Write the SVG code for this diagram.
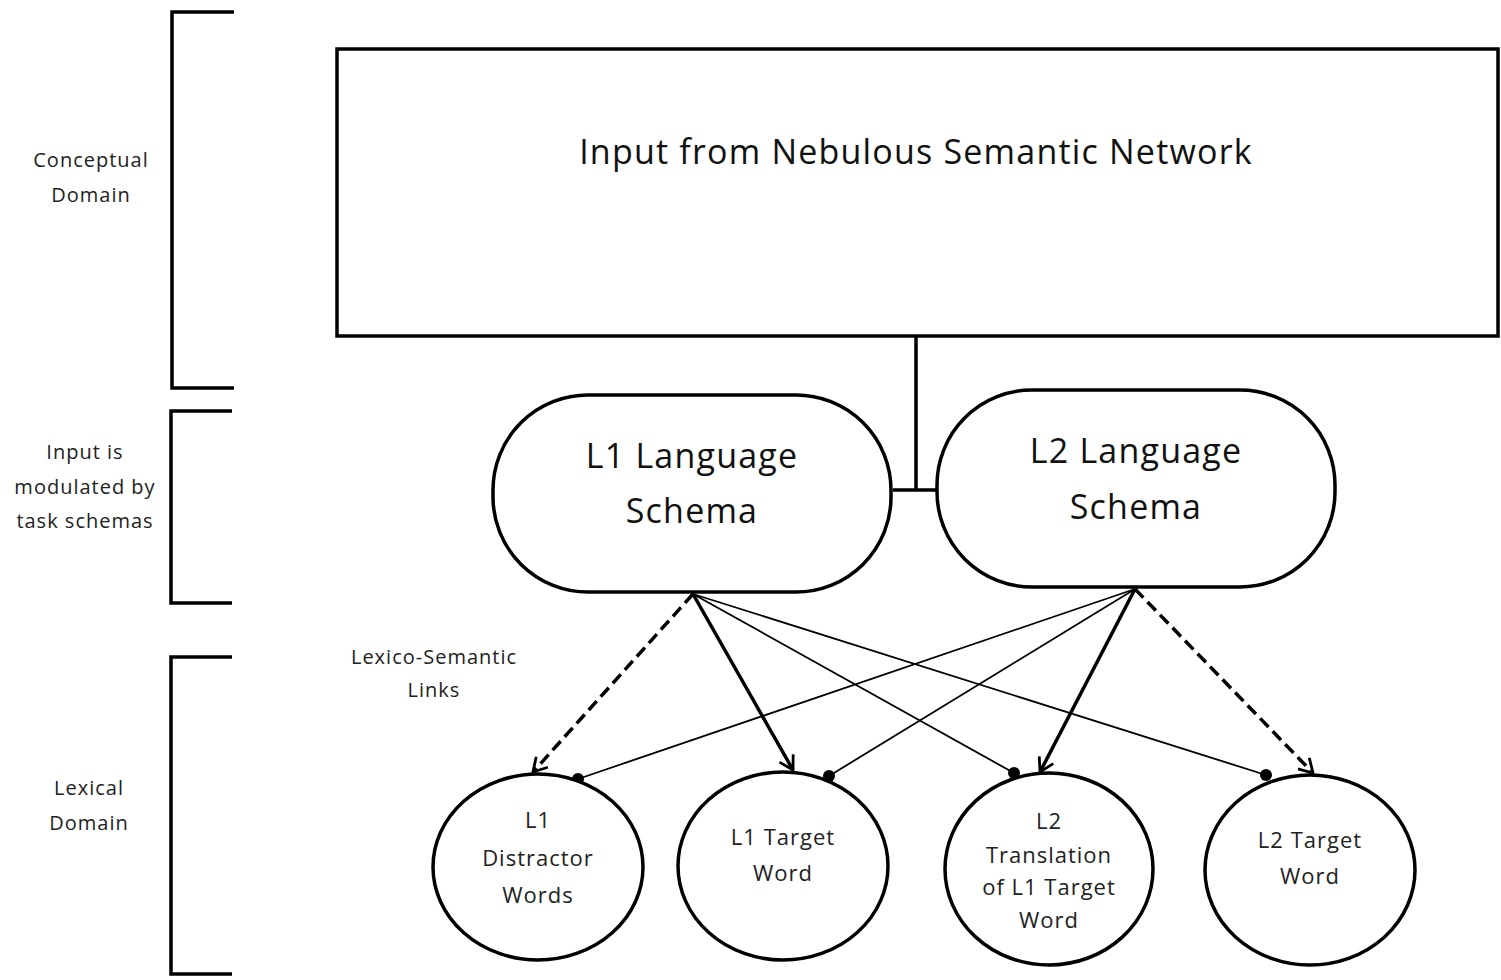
<svg xmlns="http://www.w3.org/2000/svg" width="1501" height="980" viewBox="0 0 1501 980">
  <style>
    .box { fill: #fff; stroke: #000; stroke-width: 3.5; }
    .brk { fill: none; stroke: #000; stroke-width: 3.5; }
    .side { font-family: "Open Sans", "Liberation Sans", sans-serif; font-size: 20px; letter-spacing: 1px; fill: #222; text-anchor: middle; }
    .big { font-family: "Open Sans", "Liberation Sans", sans-serif; font-size: 34px; letter-spacing: 1.2px; fill: #111; text-anchor: middle; }
    .node { font-family: "Open Sans", "Liberation Sans", sans-serif; font-size: 22px; letter-spacing: 1px; fill: #222; text-anchor: middle; }
    .thick { fill: none; stroke: #000; stroke-width: 3.5; }
    .dash { fill: none; stroke: #000; stroke-width: 3.5; stroke-dasharray: 12 6; }
    .thin { fill: none; stroke: #000; stroke-width: 1.8; }
  </style>
  <defs>
    <marker id="open" viewBox="0 0 16 16" refX="14" refY="8" markerWidth="18" markerHeight="18" markerUnits="userSpaceOnUse" orient="auto">
      <path d="M2,1 L14,8 L2,15" fill="none" stroke="#000" stroke-width="2.5"/>
    </marker>
    <marker id="dot" viewBox="0 0 12 12" refX="6" refY="6" markerWidth="12" markerHeight="12" markerUnits="userSpaceOnUse">
      <circle cx="6" cy="6" r="6" fill="#000"/>
    </marker>
  </defs>
  <rect width="1501" height="980" fill="#fff"/>

  <!-- domain brackets and labels -->
  <g id="domain-conceptual">
    <path class="brk" d="M234,12 H172 V388 H234"/>
    <text class="side" x="91" y="167">Conceptual</text>
    <text class="side" x="91" y="202">Domain</text>
  </g>
  <g id="domain-schemas">
    <path class="brk" d="M232,411 H171 V603 H232"/>
    <text class="side" x="85" y="459">Input is</text>
    <text class="side" x="85" y="494">modulated by</text>
    <text class="side" x="85" y="528">task schemas</text>
  </g>
  <g id="domain-lexical">
    <path class="brk" d="M232,657 H171 V974 H232"/>
    <text class="side" x="89" y="795">Lexical</text>
    <text class="side" x="89" y="830">Domain</text>
  </g>
  <g id="links-label">
    <text class="side" x="434" y="664">Lexico-Semantic</text>
    <text class="side" x="434" y="697">Links</text>
  </g>

  <!-- connectors -->
  <g id="connectors">
    <path class="thick" d="M916,336 V490 M893,490 H937"/>
    <line class="dash" x1="693" y1="594" x2="533" y2="772" marker-end="url(#open)"/>
    <line class="thick" x1="693" y1="594" x2="793" y2="770" marker-end="url(#open)"/>
    <line class="thin" x1="693" y1="594" x2="1014" y2="773" marker-end="url(#dot)"/>
    <line class="thin" x1="693" y1="594" x2="1266" y2="775" marker-end="url(#dot)"/>
    <line class="thin" x1="1135" y1="589" x2="578" y2="779" marker-end="url(#dot)"/>
    <line class="thin" x1="1135" y1="589" x2="829" y2="776" marker-end="url(#dot)"/>
    <line class="thick" x1="1135" y1="589" x2="1040" y2="772" marker-end="url(#open)"/>
    <line class="dash" x1="1135" y1="589" x2="1313" y2="773" marker-end="url(#open)"/>
  </g>

  <!-- conceptual input -->
  <g id="semantic-network">
    <rect class="box" x="337" y="49" width="1161" height="287"/>
    <text class="big" x="916" y="164">Input from Nebulous Semantic Network</text>
  </g>

  <!-- language schemas -->
  <g id="l1-schema">
    <rect class="box" x="493" y="395" width="398" height="197" rx="95" ry="95"/>
    <text class="big" x="692" y="468">L1 Language</text>
    <text class="big" x="692" y="523">Schema</text>
  </g>
  <g id="l2-schema">
    <rect class="box" x="937" y="390" width="398" height="197" rx="95" ry="95"/>
    <text class="big" x="1136" y="463">L2 Language</text>
    <text class="big" x="1136" y="519">Schema</text>
  </g>

  <!-- lexical nodes -->
  <g id="l1-distractor">
    <ellipse class="box" cx="538" cy="867" rx="105" ry="93"/>
    <text class="node" x="538" y="828">L1</text>
    <text class="node" x="538" y="866">Distractor</text>
    <text class="node" x="538" y="903">Words</text>
  </g>
  <g id="l1-target">
    <ellipse class="box" cx="783" cy="866" rx="105" ry="94"/>
    <text class="node" x="783" y="845">L1 Target</text>
    <text class="node" x="783" y="881">Word</text>
  </g>
  <g id="l2-translation">
    <ellipse class="box" cx="1049" cy="869" rx="104" ry="96"/>
    <text class="node" x="1049" y="829">L2</text>
    <text class="node" x="1049" y="863">Translation</text>
    <text class="node" x="1049" y="895">of L1 Target</text>
    <text class="node" x="1049" y="928">Word</text>
  </g>
  <g id="l2-target">
    <ellipse class="box" cx="1310" cy="870" rx="105" ry="95"/>
    <text class="node" x="1310" y="848">L2 Target</text>
    <text class="node" x="1310" y="884">Word</text>
  </g>
</svg>
